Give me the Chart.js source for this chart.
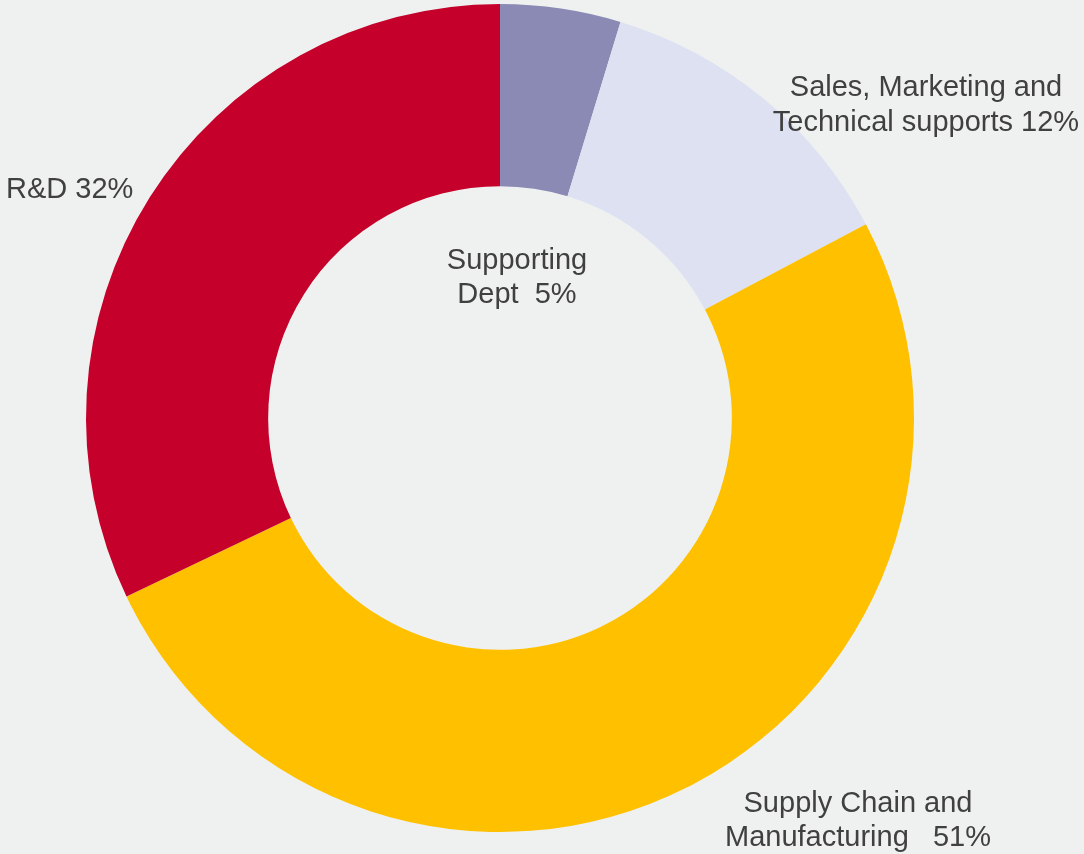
<!DOCTYPE html>
<html>
<head>
<meta charset="utf-8">
<script src="https://cdn.jsdelivr.net/npm/chart.js@4/dist/chart.umd.min.js"></script>
<style>
  html, body { margin: 0; padding: 0; background: #eff1f0; overflow: hidden; }
  #wrap { width: 1084px; height: 854px; }
</style>
</head>
<body>
<div id="wrap"><canvas id="c" width="1084" height="854"></canvas></div>
<script>
// ---- data ----
const categories = ["Supporting Dept", "Sales, Marketing and Technical supports", "Supply Chain and Manufacturing", "R&D"];
const shares = [4.7, 12.55, 50.65, 32.1];
const labelLines = [
  ["Supporting", "Dept  5%"],
  ["Sales, Marketing and", "Technical supports 12%"],
  ["Supply Chain and", "Manufacturing   51%"],
  ["R&D 32%"]
];
const sliceColors = ["#8a8ab5", "#dde1f1", "#ffc000", "#c4002b"];

// ---- label placement (text only, not marks) ----
const labelAnchors = [
  { x: 517, y: 269, align: "center", gap: 34 },
  { x: 926, y: 96,  align: "center", gap: 35 },
  { x: 858, y: 812, align: "center", gap: 34 },
  { x: 6,   y: 198, align: "left",   gap: 34 }
];

const labelPlugin = {
  id: "sliceLabels",
  afterDraw(chart) {
    const ctx = chart.ctx;
    ctx.save();
    ctx.fillStyle = "#404040";
    ctx.font = '29px "Liberation Sans", Arial, sans-serif';
    ctx.textBaseline = "alphabetic";
    labelLines.forEach((lines, i) => {
      const a = labelAnchors[i];
      ctx.textAlign = a.align;
      lines.forEach((t, j) => ctx.fillText(t, a.x, a.y + j * a.gap));
    });
    ctx.restore();
  }
};

const bgPlugin = {
  id: "bg",
  beforeDraw(chart) {
    const ctx = chart.ctx;
    ctx.save();
    ctx.fillStyle = "#eff1f0";
    ctx.fillRect(0, 0, chart.width, chart.height);
    ctx.restore();
  }
};

new Chart(document.getElementById("c"), {
  type: "doughnut",
  data: {
    labels: categories,
    datasets: [{
      data: shares,
      backgroundColor: sliceColors,
      borderWidth: 0,
      hoverOffset: 0
    }]
  },
  options: {
    responsive: false,
    devicePixelRatio: 1,
    animation: false,
    cutout: "56%",
    rotation: 0,
    layout: { padding: { left: 86, right: 170, top: 4, bottom: 22 } },
    plugins: {
      legend: { display: false },
      tooltip: { enabled: false }
    }
  },
  plugins: [bgPlugin, labelPlugin]
});
</script>
</body>
</html>
